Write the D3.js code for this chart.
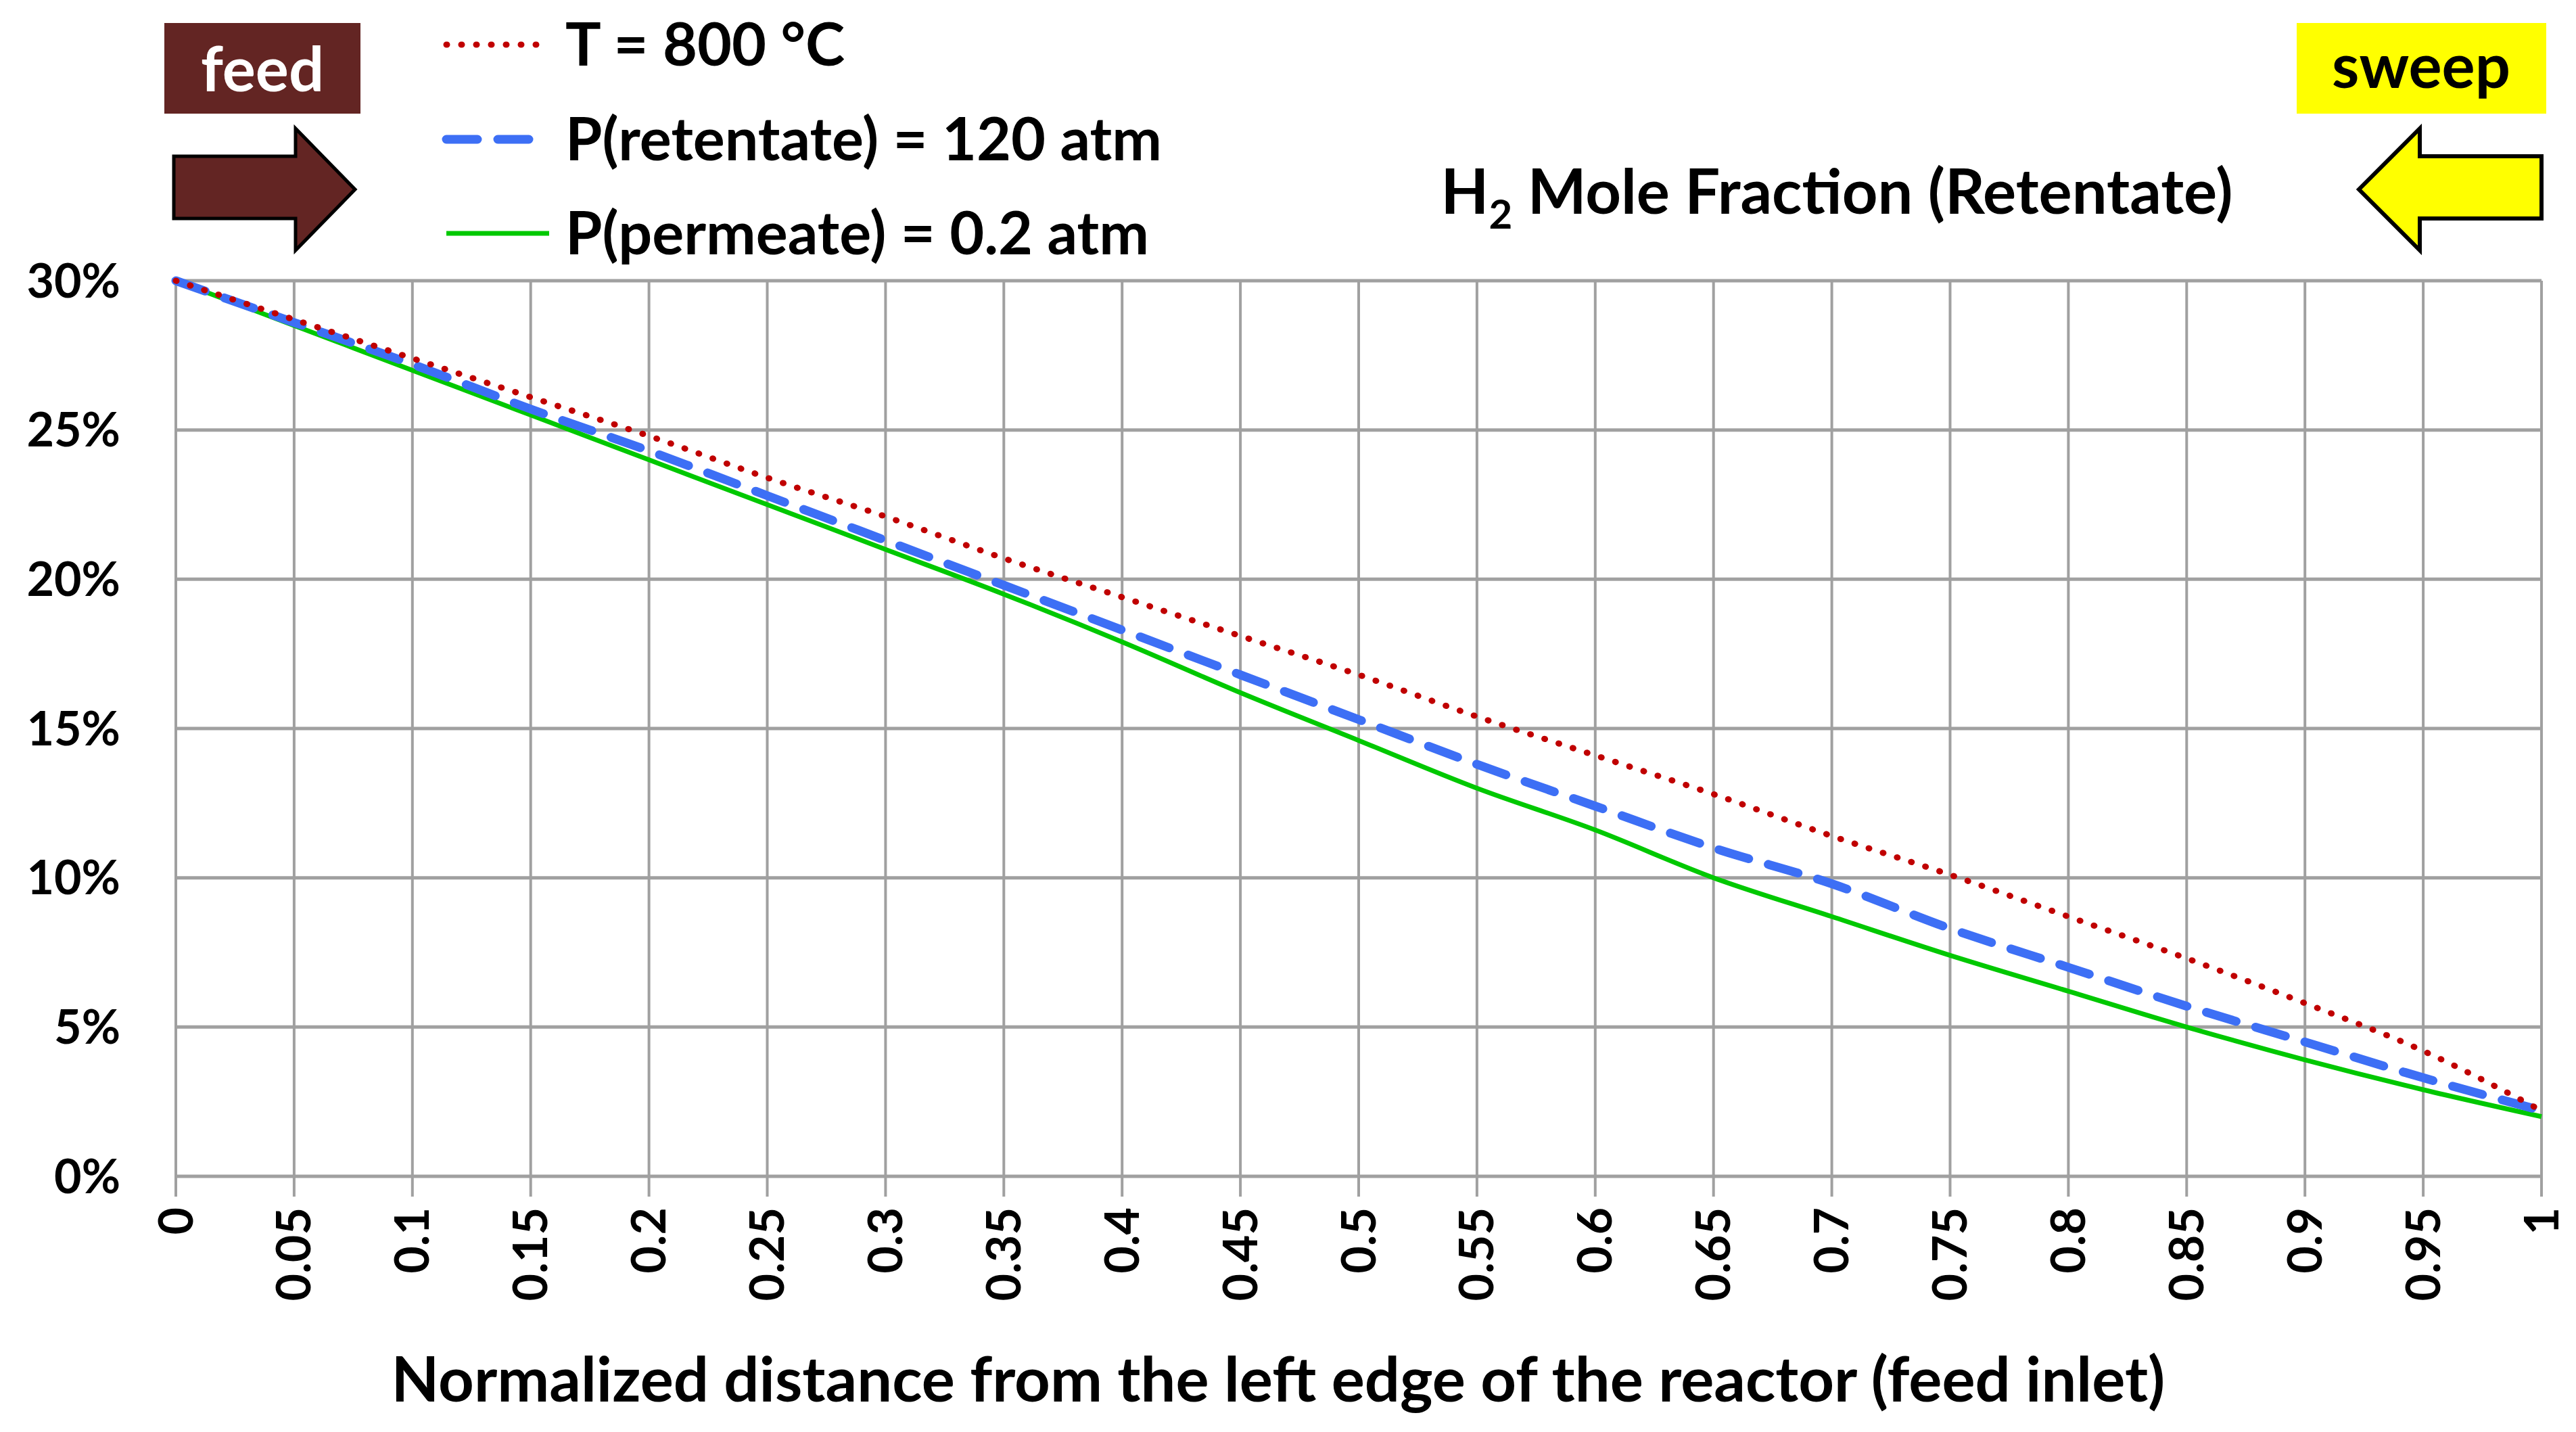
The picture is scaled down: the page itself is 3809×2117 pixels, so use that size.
<!DOCTYPE html>
<html><head><meta charset="utf-8">
<script src="https://cdn.jsdelivr.net/npm/d3@7"></script>
<style>body{margin:0;background:#fff}text{font-family:Lato,"Open Sans",sans-serif;font-weight:bold}</style>
</head><body><div id="chart"></div>
<script>
// positions along the reactor
const xs = [0,0.05,0.1,0.15,0.2,0.25,0.3,0.35,0.4,0.45,0.5,0.55,0.6,0.65,0.7,0.75,0.8,0.85,0.9,0.95,1];
const tempSeries = [30,28.7,27.4,26.1,24.8,23.4,22.1,20.7,19.4,18.1,16.8,15.4,14.1,12.8,11.4,10.1,8.7,7.3,5.8,4.2,2.2];
const retSeries = [30,28.6,27.2,25.7,24.3,22.8,21.3,19.8,18.3,16.8,15.3,13.8,12.4,11.0,9.8,8.3,7.0,5.7,4.5,3.3,2.2];
const permSeries = [30,28.5,27.0,25.5,24.0,22.5,21.0,19.5,17.9,16.2,14.6,13.0,11.6,10.0,8.7,7.4,6.2,5.0,3.9,2.9,2.0];
const yTicks = [0,5,10,15,20,25,30];
const xTickLabels = ['0','0.05','0.1','0.15','0.2','0.25','0.3','0.35','0.4','0.45','0.5','0.55','0.6','0.65','0.7','0.75','0.8','0.85','0.9','0.95','1'];

const W = 3809, H = 2117;
const svg = d3.select('#chart').append('svg').attr('width', W).attr('height', H);
const x = d3.scaleLinear().domain([0, 1]).range([260, 3758]);
const y = d3.scaleLinear().domain([0, 30]).range([1739, 415]);

// grid
svg.append('g').selectAll('line').data(yTicks).join('line')
  .attr('x1', 260).attr('x2', 3758).attr('y1', d => y(d)).attr('y2', d => y(d))
  .attr('stroke', '#a0a0a0').attr('stroke-width', 5);
svg.append('g').selectAll('line').data(xs).join('line')
  .attr('x1', d => x(d)).attr('x2', d => x(d)).attr('y1', 415).attr('y2', 1769)
  .attr('stroke', '#a0a0a0').attr('stroke-width', 4);

svg.append('g').selectAll('text').data(yTicks).join('text')
  .attr('x', 178).attr('y', d => y(d)).attr('dy', '0.35em').attr('text-anchor', 'end')
  .attr('font-size', 70).text(d => d + '%');
svg.append('g').selectAll('text').data(xs).join('text')
  .attr('transform', d => `translate(${x(d)},1785) rotate(-90)`)
  .attr('dy', '0.35em').attr('text-anchor', 'end').attr('font-size', 70)
  .text((d, i) => xTickLabels[i]);

const line = d3.line().x((d, i) => x(xs[i])).y(d => y(d)).curve(d3.curveMonotoneX);
const styles = [
  {data: permSeries, color: '#00c800', w: 7, dash: null, cap: 'butt', label: 'P(permeate) = 0.2 atm'},
  {data: retSeries, color: '#3d6ff5', w: 13, dash: '46 30', cap: 'round', label: 'P(retentate) = 120 atm'},
  {data: tempSeries, color: '#c00000', w: 9, dash: '1 21', cap: 'round', label: 'T = 800 °C'}
];
styles.forEach(s => {
  svg.append('path').attr('d', line(s.data)).attr('fill', 'none')
    .attr('stroke', s.color).attr('stroke-width', s.w)
    .attr('stroke-dasharray', s.dash).attr('stroke-linecap', s.cap);
});

// legend
const legY = [345, 206, 66];
styles.forEach((s, i) => {
  svg.append('line').attr('x1', 660).attr('x2', 812).attr('y1', legY[i]).attr('y2', legY[i])
    .attr('stroke', s.color).attr('stroke-width', s.w)
    .attr('stroke-dasharray', s.dash).attr('stroke-linecap', s.cap);
  svg.append('text').attr('x', 836).attr('y', legY[i]).attr('dy', '0.35em')
    .attr('font-size', 88).text(s.label);
});

// title
const t = svg.append('text').attr('x', 2716).attr('y', 284).attr('dy', '0.35em')
  .attr('text-anchor', 'middle').attr('font-size', 92);
t.append('tspan').text('H');
t.append('tspan').attr('font-size', 60).attr('dy', 22).text('2');
t.append('tspan').attr('dy', -22).text(' Mole Fraction (Retentate)');

// axis title
svg.append('text').attr('x', 1890).attr('y', 2040).attr('dy', '0.35em')
  .attr('text-anchor', 'middle').attr('font-size', 92)
  .text('Normalized distance from the left edge of the reactor (feed inlet)');

// feed box and arrow
svg.append('rect').attr('x', 243).attr('y', 34).attr('width', 290).attr('height', 134).attr('fill', '#632523');
svg.append('text').attr('x', 388).attr('y', 103).attr('dy', '0.35em').attr('text-anchor', 'middle')
  .attr('fill', '#fff').attr('font-size', 92).text('feed');
svg.append('path')
  .attr('d', 'M257,231 L437,231 L437,190 L525,280 L437,370 L437,323 L257,323 Z')
  .attr('fill', '#632523').attr('stroke', '#000').attr('stroke-width', 5);

// sweep box and arrow
svg.append('rect').attr('x', 3396).attr('y', 34).attr('width', 369).attr('height', 134).attr('fill', '#ffff00');
svg.append('text').attr('x', 3580).attr('y', 98).attr('dy', '0.35em').attr('text-anchor', 'middle')
  .attr('fill', '#000').attr('font-size', 92).text('sweep');
svg.append('path')
  .attr('d', 'M3758,231 L3578,231 L3578,190 L3488,280 L3578,370 L3578,323 L3758,323 Z')
  .attr('fill', '#ffff00').attr('stroke', '#000').attr('stroke-width', 6);
</script></body></html>
